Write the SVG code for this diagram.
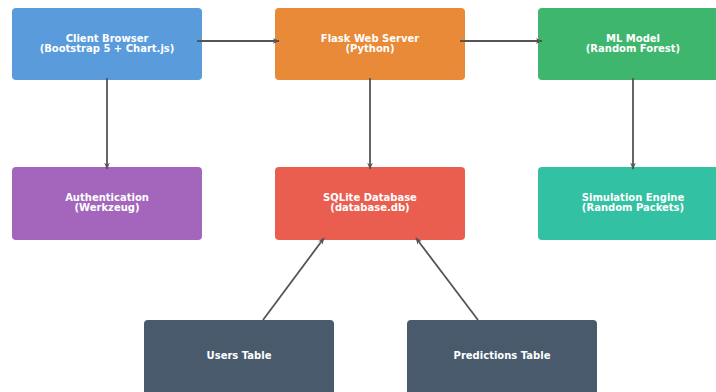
<svg xmlns="http://www.w3.org/2000/svg" width="716" height="392" viewBox="0 0 716 392">
<defs>
<marker id="ah" viewBox="0 0 10 10" refX="9" refY="5" markerWidth="7" markerHeight="7" orient="auto" markerUnits="userSpaceOnUse">
<path d="M0,1 L10,5 L0,9 L3,5 z" fill="#555"/>
</marker>
<style>
.box{rx:4;ry:4}
.t{font-family:"DejaVu Sans",sans-serif;font-weight:bold;font-size:10px;fill:#fff;text-anchor:middle}
.c{stroke:#555;stroke-width:1.8;fill:none;marker-end:url(#ah)}
</style>
</defs>
<rect width="716" height="392" fill="#fff"/>
<g id="client"><rect class="box" x="12" y="8" width="190" height="72" fill="#5A9BDC"/><text class="t" x="107" y="42">Client Browser</text><text class="t" x="107" y="52">(Bootstrap 5 + Chart.js)</text></g>
<g id="flask"><rect class="box" x="275" y="8" width="190" height="72" fill="#E88A38"/><text class="t" x="370" y="42">Flask Web Server</text><text class="t" x="370" y="52">(Python)</text></g>
<g id="ml"><rect class="box" x="538" y="8" width="190" height="72" fill="#3FB66E"/><text class="t" x="633" y="42">ML Model</text><text class="t" x="633" y="52">(Random Forest)</text></g>
<g id="auth"><rect class="box" x="12" y="167" width="190" height="73" fill="#A466BC"/><text class="t" x="107" y="201">Authentication</text><text class="t" x="107" y="211">(Werkzeug)</text></g>
<g id="sqlite"><rect class="box" x="275" y="167" width="190" height="73" fill="#EA5E4F"/><text class="t" x="370" y="201">SQLite Database</text><text class="t" x="370" y="211">(database.db)</text></g>
<g id="sim"><rect class="box" x="538" y="167" width="190" height="73" fill="#33C1A3"/><text class="t" x="633" y="201">Simulation Engine</text><text class="t" x="633" y="211">(Random Packets)</text></g>
<g id="users"><rect class="box" x="144" y="320" width="190" height="80" fill="#485A6C"/><text class="t" x="239" y="359">Users Table</text></g>
<g id="preds"><rect class="box" x="407" y="320" width="190" height="80" fill="#485A6C"/><text class="t" x="502" y="359">Predictions Table</text></g>
<g id="connectors">
<line class="c" x1="197" y1="41" x2="279" y2="41"/>
<line class="c" x1="460" y1="41" x2="542" y2="41"/>
<line class="c" x1="107" y1="78" x2="107" y2="169"/>
<line class="c" x1="370" y1="78" x2="370" y2="169"/>
<line class="c" x1="633" y1="78" x2="633" y2="169"/>
<line class="c" x1="263" y1="320" x2="324" y2="238"/>
<line class="c" x1="478" y1="320" x2="416" y2="238"/>
</g>
</svg>
